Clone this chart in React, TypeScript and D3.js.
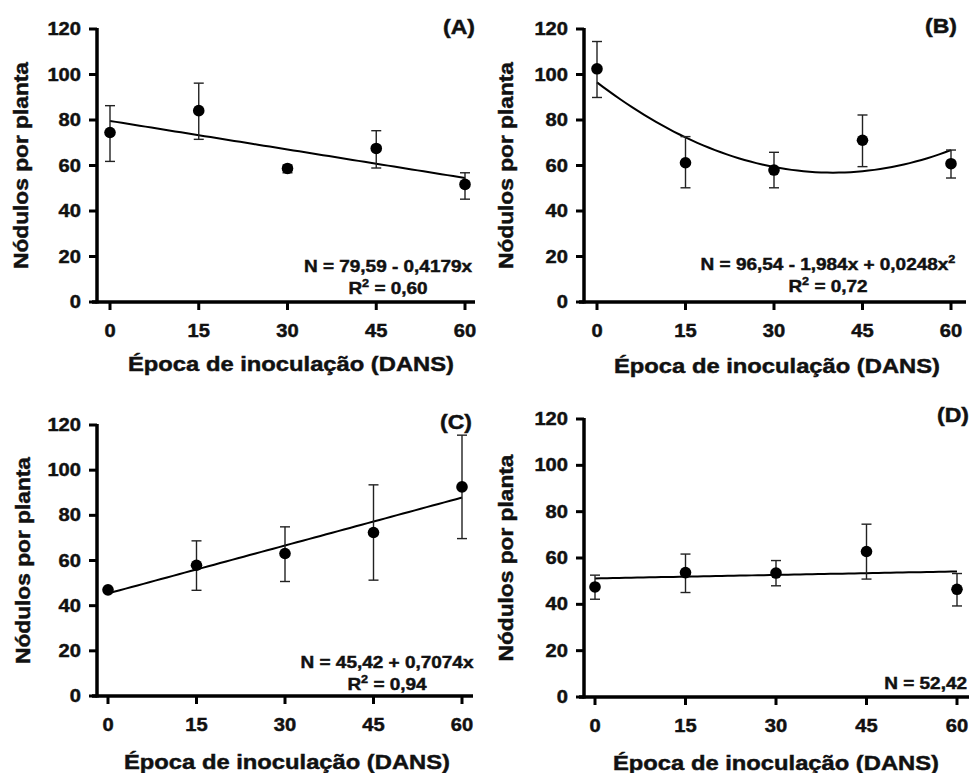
import React from "react";
import * as d3 from "d3";

// ---- data ----
const xTicks = [0, 15, 30, 45, 60];
const yTicks = [0, 20, 40, 60, 80, 100, 120];
const epochs = [0, 15, 30, 45, 60];

const meanA = [74.5, 84.1, 58.7, 67.5, 51.7];
const lowA = [61.8, 71.5, 56.8, 58.9, 45.2];
const highA = [86.3, 96.2, 60.2, 75.3, 56.8];

const meanB = [102.5, 61.2, 58.0, 71.1, 60.8];
const lowB = [89.9, 50.2, 50.2, 59.5, 54.5];
const highB = [114.5, 72.7, 65.8, 82.2, 66.8];

const meanC = [47.0, 57.9, 63.1, 72.4, 92.6];
const lowC = [47.0, 46.8, 50.7, 51.3, 69.7];
const highC = [47.0, 68.7, 74.9, 93.5, 115.5];

const meanD = [47.5, 53.7, 53.5, 62.8, 46.5];
const lowD = [42.2, 45.1, 48.0, 50.9, 39.3];
const highD = [52.6, 61.7, 58.9, 74.6, 53.3];

// regression coefficients [a, b, c] : N = a + b x + c x^2
const fitA = [79.59, -0.4179, 0];
const fitB = [96.54, -1.984, 0.0248];
const fitC = [45.42, 0.7074, 0];
const fitD = [51.2, 0.05, 0];

const labels = ["(A)", "(B)", "(C)", "(D)"];
const eqLine1 = ["N = 79,59 - 0,4179x", "N = 96,54 - 1,984x + 0,0248x", "N = 45,42 + 0,7074x", "N = 52,42"];
const eqR2 = ["0,60", "0,72", "0,94", ""];

const xTitle = "Época de inoculação (DANS)";
const yTitle = "Nódulos por planta";

const FONT = "'Liberation Sans', Arial, Helvetica, sans-serif";

type Layout = {
  axisX: number; x0: number; x60: number; y0: number; y120: number; xStart: number; xEnd: number;
  labelX: number; labelY: number; eqX: number; eqY: number; eqAnchor: string;
  xTitleX: number; xTitleY: number; yTitleX: number;
};

const layouts: Layout[] = [
  { axisX: 97, x0: 110, x60: 465, y0: 302, y120: 29, xStart: 92, xEnd: 475, labelX: 475, labelY: 34, eqX: 388, eqY: 272, eqAnchor: "middle", xTitleX: 291, xTitleY: 371, yTitleX: 28 },
  { axisX: 584, x0: 597, x60: 951, y0: 302, y120: 29, xStart: 579, xEnd: 966, labelX: 957, labelY: 33, eqX: 828, eqY: 270, eqAnchor: "middle", xTitleX: 777, xTitleY: 373, yTitleX: 513 },
  { axisX: 97, x0: 108, x60: 462, y0: 696, y120: 425, xStart: 92, xEnd: 473, labelX: 472, labelY: 429, eqX: 387, eqY: 668, eqAnchor: "middle", xTitleX: 287, xTitleY: 769, yTitleX: 30 },
  { axisX: 584, x0: 595, x60: 957, y0: 697, y120: 419, xStart: 579, xEnd: 969, labelX: 969, labelY: 422, eqX: 967, eqY: 689, eqAnchor: "end", xTitleX: 776, xTitleY: 770, yTitleX: 513 },
];

const series = [
  { mean: meanA, low: lowA, high: highA, fit: fitA },
  { mean: meanB, low: lowB, high: highB, fit: fitB },
  { mean: meanC, low: lowC, high: highC, fit: fitC },
  { mean: meanD, low: lowD, high: highD, fit: fitD },
];

const SX = 1.15;

function SText(props: { x: number; y: number; anchor?: string; size: number; children: React.ReactNode }) {
  return (
    <g transform={`translate(${props.x},${props.y}) scale(${SX},1)`}>
      <text textAnchor={props.anchor || "start"} fontSize={props.size} fontWeight="bold" fontFamily={FONT}
        fill="#111" stroke="#111" strokeWidth={0.45}>
        {props.children}
      </text>
    </g>
  );
}

function Panel({ i }: { i: number }) {
  const L = layouts[i];
  const S = series[i];
  const x = d3.scaleLinear().domain([0, 60]).range([L.x0, L.x60]);
  const y = d3.scaleLinear().domain([0, 120]).range([L.y0, L.y120]);
  const f = (t: number) => S.fit[0] + S.fit[1] * t + S.fit[2] * t * t;
  const samples = d3.range(0, 60.001, 1);
  const line = d3.line<number>().x((t) => x(t)).y((t) => y(f(t)));
  const cap = 5;
  return (
    <g>
      {/* axes */}
      <line x1={L.axisX} x2={L.axisX} y1={y(120) - 1} y2={L.y0 + 1.5} stroke="#000" strokeWidth={3.5} />
      <line x1={L.xStart} x2={L.xEnd} y1={L.y0} y2={L.y0} stroke="#000" strokeWidth={3.5} />
      {yTicks.map((t) => (
        <g key={"y" + t}>
          <line x1={L.axisX - 8} x2={L.axisX} y1={y(t)} y2={y(t)} stroke="#000" strokeWidth={3} />
          <SText x={L.axisX - 16} y={y(t) + 6} anchor="end" size={17.5}>{t}</SText>
        </g>
      ))}
      {xTicks.map((t) => (
        <g key={"x" + t}>
          <line x1={x(t)} x2={x(t)} y1={L.y0} y2={L.y0 + 8} stroke="#000" strokeWidth={3} />
          <SText x={x(t)} y={L.y0 + 35} anchor="middle" size={17.5}>{t}</SText>
        </g>
      ))}
      {/* titles */}
      <text x={L.xTitleX} y={L.xTitleY} textAnchor="middle" fontSize={19.5} fontWeight="bold" fontFamily={FONT}
        textLength={326} lengthAdjust="spacingAndGlyphs" fill="#111" stroke="#111" strokeWidth={0.45}>{xTitle}</text>
      <text transform={`translate(${L.yTitleX},${(L.y0 + L.y120) / 2}) rotate(-90)`} textAnchor="middle" fontSize={20.5}
        fontWeight="bold" fontFamily={FONT} textLength={207} lengthAdjust="spacingAndGlyphs" fill="#111"
        stroke="#111" strokeWidth={0.45}>{yTitle}</text>
      <SText x={L.labelX} y={L.labelY} anchor="end" size={20}>{labels[i]}</SText>
      {/* fit */}
      <path d={line(samples) || ""} fill="none" stroke="#000" strokeWidth={2} />
      {/* error bars */}
      {epochs.map((e, k) => (
        <g key={"e" + k} stroke="#222" strokeWidth={1.4}>
          <line x1={x(e)} x2={x(e)} y1={y(S.low[k])} y2={y(S.high[k])} />
          <line x1={x(e) - cap} x2={x(e) + cap} y1={y(S.high[k])} y2={y(S.high[k])} />
          <line x1={x(e) - cap} x2={x(e) + cap} y1={y(S.low[k])} y2={y(S.low[k])} />
        </g>
      ))}
      {epochs.map((e, k) => (
        <circle key={"p" + k} cx={x(e)} cy={y(S.mean[k])} r={5.8} fill="#000" />
      ))}
      {/* equation */}
      <SText x={L.eqX} y={L.eqY} anchor={L.eqAnchor} size={16.5}>
        {eqLine1[i]}
        {i === 1 ? <tspan dy={-7} fontSize={11}>2</tspan> : null}
      </SText>
      {eqR2[i] ? (
        <SText x={L.eqX} y={L.eqY + 22} anchor="middle" size={16.5}>
          R<tspan dy={-7} fontSize={11}>2</tspan><tspan dy={7}>{" = " + eqR2[i]}</tspan>
        </SText>
      ) : null}
    </g>
  );
}

export default function App() {
  return (
    <svg width={969} height={773} style={{ position: "absolute", left: 0, top: 0, background: "#fff" }}>
      <rect width={969} height={773} fill="#fff" />
      {[0, 1, 2, 3].map((i) => (
        <Panel key={i} i={i} />
      ))}
    </svg>
  );
}
